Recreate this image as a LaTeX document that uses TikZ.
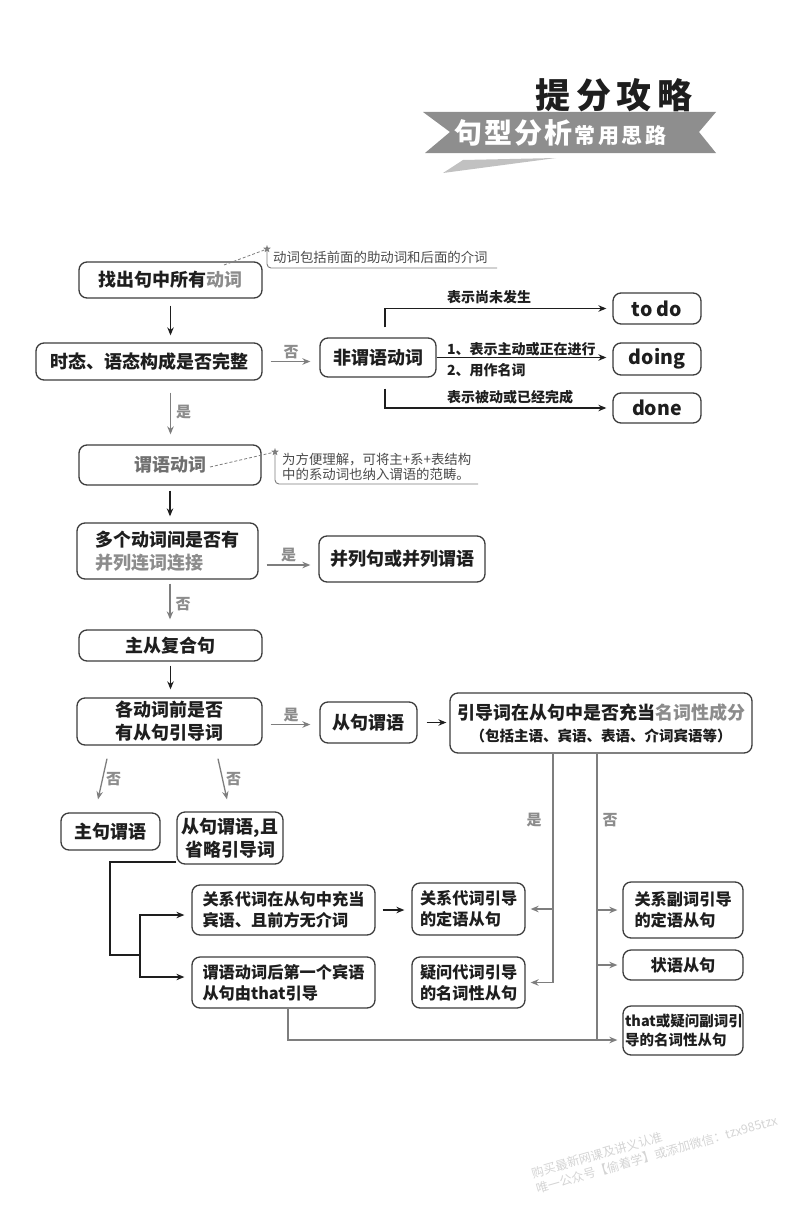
\documentclass[tikz,border=0pt]{standalone}
\usepackage{fontspec}
\setmainfont{Noto Sans CJK SC}
\newfontfamily\cjk{Noto Sans CJK SC}
\usetikzlibrary{arrows.meta,shapes.geometric,calc}
\definecolor{ink}{HTML}{1E1E1E}
\definecolor{boxc}{HTML}{3C3C3C}
\definecolor{graytxt}{HTML}{8C8C8C}
\definecolor{grayl}{HTML}{7E7E7E}
\definecolor{notec}{HTML}{4A4A4A}
\definecolor{banner}{HTML}{8E8E8E}
\definecolor{wmark}{HTML}{D4D4D4}
\begin{document}
\begin{tikzpicture}[x=1pt,y=-1pt,
  every node/.style={font=\cjk, text=ink},
  box/.style={draw=boxc, line width=1.3pt, rounded corners=8pt, inner sep=0pt, font=\cjk\bfseries},
  tbig/.style={font=\cjk\bfseries\fontsize{18}{23}\selectfont},
  tmid/.style={font=\cjk\bfseries\fontsize{16.2}{21}\selectfont},
  tsml/.style={font=\cjk\bfseries\fontsize{14.5}{19}\selectfont},
  tlab/.style={font=\cjk\bfseries\fontsize{14}{16}\selectfont, inner sep=1pt},
  yn/.style={font=\cjk\bfseries\fontsize{15}{17}\selectfont, text=graytxt, inner sep=1pt},
  notetxt/.style={font=\cjk\fontsize{13.4}{14.5}\selectfont, text=notec, inner sep=0pt, align=left},
  blk/.style={draw=ink, line width=1.2pt},
  blkarr/.style={blk, -{Stealth[length=8pt,width=6.5pt]}},
  gra/.style={draw=grayl, line width=1.3pt},
  graarr/.style={gra, -{Stealth[length=8pt,width=6.5pt]}},
  notel/.style={draw=grayl, line width=0.9pt},
  dashl/.style={draw=grayl, line width=0.8pt, dashed, dash pattern=on 3pt off 2pt},
  starmark/.style={star, star points=5, star point ratio=2.4, fill=grayl, draw=none, minimum size=8pt, inner sep=0pt}
]
\useasboundingbox (0,0) rectangle (800,1212);

% ---------- Title and banner ----------
\node[font=\cjk\bfseries\fontsize{35}{35}\selectfont\addfontfeatures{LetterSpace=16}, text=ink] (title) at (614,95) {提分攻略};
\fill[banner] (423,112) -- (716,112) -- (699,132) -- (716,153) -- (425,153) -- (450,132) -- cycle;
\fill[banner!55] (443,173) -- (463,160) -- (556,158) -- cycle;
\node[anchor=west, text=white, inner sep=0pt] (bantxt) at (454,133) {{\bfseries\fontsize{28}{28}\selectfont\addfontfeatures{LetterSpace=8}句型分析}\,{\bfseries\fontsize{21}{21}\selectfont\addfontfeatures{LetterSpace=12}常用思路}};

% ---------- Main column ----------
\node[box, tbig, minimum width=183pt, minimum height=36pt] (b1) at (170.5,280) {找出句中所有\textcolor{graytxt}{动词}};
\node[box, tbig, minimum width=226pt, minimum height=37pt] (b2) at (149,361.5) {时态、语态构成是否完整};
\node[box, tbig, minimum width=116pt, minimum height=39pt] (n1) at (378,357.5) {非谓语动词};
\node[box, font=\cjk\bfseries\fontsize{19.5}{22}\selectfont, minimum width=88pt, minimum height=31pt] (todo) at (657,308.5) {to do};
\node[box, font=\cjk\bfseries\fontsize{19.5}{22}\selectfont, minimum width=88pt, minimum height=32pt] (doing) at (657,359) {doing};
\node[box, font=\cjk\bfseries\fontsize{19.5}{22}\selectfont, minimum width=88pt, minimum height=30pt] (done) at (657,408) {done};

\node[box, tbig, minimum width=182pt, minimum height=40pt] (b3) at (170,465) {\textcolor{graytxt!80!black}{谓语动词}};
\node[box, tbig, minimum width=181pt, minimum height=56pt, text width=145pt, align=left] (b4) at (167.5,551) {多个动词间是否有\\\textcolor{graytxt}{并列连词连接}};
\node[box, tbig, minimum width=166pt, minimum height=46pt] (p1) at (402,559) {并列句或并列谓语};
\node[box, tbig, minimum width=183pt, minimum height=31pt] (b5) at (170.5,645.5) {主从复合句};
\node[box, tbig, minimum width=185pt, minimum height=47pt, align=center] (b6) at (169.5,721.5) {各动词前是否\\有从句引导词};
\node[box, tbig, minimum width=97pt, minimum height=41pt] (c1) at (368.5,722.5) {从句谓语};
\node[box, tbig, minimum width=302pt, minimum height=60pt, align=center] (c2) at (601,723) {引导词在从句中是否充当\textcolor{graytxt}{名词性成分}\\[-1pt]{\fontsize{14.5}{18}\selectfont（包括主语、宾语、表语、介词宾语等）}};

\node[box, tbig, minimum width=99pt, minimum height=37pt] (m1) at (110.5,831.5) {主句谓语};
\node[box, tbig, minimum width=106pt, minimum height=52pt, align=center] (m2) at (230,838) {从句谓语,且\\省略引导词};

\node[box, tmid, minimum width=183pt, minimum height=50pt, text width=162pt, align=left] (r1) at (283.5,910) {关系代词在从句中充当\\宾语、且前方无介词};
\node[box, tmid, minimum width=183pt, minimum height=51pt, text width=162pt, align=left] (r2) at (283.5,982.5) {谓语动词后第一个宾语\\从句由that引导};
\node[box, tmid, minimum width=113pt, minimum height=52pt, text width=97pt, align=left] (s1) at (468.5,909) {关系代词引导\\的定语从句};
\node[box, tmid, minimum width=113pt, minimum height=51pt, text width=97pt, align=left] (s2) at (468.5,982.5) {疑问代词引导\\的名词性从句};
\node[box, tmid, minimum width=120pt, minimum height=56pt, text width=97pt, align=left] (t1) at (683,910) {关系副词引导\\的定语从句};
\node[box, tmid, minimum width=120pt, minimum height=30pt] (t2) at (683,965) {状语从句};
\node[box, tsml, minimum width=120pt, minimum height=49pt, text width=116pt, align=left] (t3) at (683,1030.5) {that或疑问副词引\\导的名词性从句};

% ---------- Notes ----------
\node[starmark] (st1) at (267,249) {};
\node[notetxt, anchor=west] (note1) at (273,257) {动词包括前面的助动词和后面的介词};
\coordinate (nr1) at (497,268);
\draw[notel, rounded corners=4pt] (st1.south) -- (st1.south |- nr1) -- (nr1);
\coordinate (d1) at (224,265);
\draw[dashl] (d1) -- (st1);

\node[starmark] (st2) at (275,452) {};
\node[notetxt, anchor=west] (note2) at (282,467) {为方便理解，可将主+系+表结构\\中的系动词也纳入谓语的范畴。};
\coordinate (nr2) at (478,484);
\draw[notel, rounded corners=4pt] (st2.south) -- (st2.south |- nr2) -- (nr2);
\coordinate (d2) at (210,467);
\draw[dashl] (d2) -- (st2);

% ---------- Connectors: main column ----------
\draw[blkarr, shorten <=7pt, shorten >=7pt] (b1.south) -- (b1.south |- b2.north);
\draw[graarr, shorten <=8pt, shorten >=9pt] (b2.east) -- (b2.east -| n1.west) node[yn, midway, above=1pt] {否};
\draw[graarr, shorten <=12pt, shorten >=10pt] (b1.south |- b2.south) -- (b1.south |- b3.north) node[yn, midway, right=4pt] {是};
\draw[blkarr, shorten <=5pt, shorten >=6pt] (b3.south) -- (b3.south |- b4.north);
\draw[graarr, shorten <=8pt, shorten >=8pt] ([yshift=-14pt]b4.east) -- ([yshift=-14pt]b4.east -| p1.west) node[yn, midway, above=1pt] {是};
\draw[graarr, shorten <=4pt, shorten >=10pt] (b3.south |- b4.south) -- (b3.south |- b5.north) node[yn, midway, right=4pt] {否};
\draw[blkarr, shorten <=4pt, shorten >=8pt] (b5.south) -- (b5.south |- b6.north);
\draw[graarr, shorten <=8pt, shorten >=9pt] ([yshift=-3pt]b6.east) -- ([yshift=-3pt]b6.east -| c1.west) node[yn, midway, above=1pt] {是};
\draw[blkarr, shorten <=9pt, shorten >=3pt] (c1.east) -- (c1.east -| c2.west);

% diagonal "no" arrows
\draw[graarr] ([xshift=-62.5pt,yshift=-13pt]b6.south) -- ([xshift=-12.5pt,yshift=13pt]m1.north) node[yn, pos=0.5, right=2pt] {否};
\draw[graarr] ([xshift=48.5pt,yshift=-13pt]b6.south) -- ([xshift=-3pt,yshift=12pt]m2.north) node[yn, pos=0.5, right=2pt] {否};

% ---------- Non-finite branches ----------
\draw[blkarr, shorten >=6pt] ([xshift=7pt,yshift=10pt]n1.north) |- (todo.west);
\node[tlab, anchor=west] (lab0) at (446,297) {表示尚未发生};
\draw[blkarr, shorten >=6pt] (n1.east) -- (n1.east -| doing.west);
\node[tlab, anchor=west] (lab1) at (446,349) {1、表示主动或正在进行};
\node[tlab, anchor=west] (lab2) at (446,370) {2、用作名词};
\draw[blkarr, shorten >=6pt] ([xshift=7pt,yshift=-11pt]n1.south) |- (done.west);
\node[tlab, anchor=west] (lab3) at (446,397) {表示被动或已经完成};

% ---------- Subordinate clause branches ----------
\coordinate (j1) at (110,955);
\coordinate (j2) at (140,955);
\draw[blk, line width=1.1pt] ([yshift=-24pt]m2.west) -| (j1) -- (j2);
\draw[blkarr, line width=1.1pt, shorten >=7pt] (j2) |- ([yshift=-5pt]r1.west);
\draw[blkarr, line width=1.1pt, shorten >=7pt] (j2) |- ([yshift=5.5pt]r2.west);
\draw[blkarr, shorten <=7pt, shorten >=7pt] (r1.east) -- (r1.east -| s1.west);

% yes branch
\coordinate (yb) at ([xshift=-48pt]c2.south);
\draw[gra] (yb) -- (yb |- s2.east);
\draw[graarr, shorten >=5pt] (yb |- s1.east) -- (s1.east);
\draw[graarr, shorten >=5pt] (yb |- s2.east) -- (s2.east);
\node[yn] (yeslab) at (534,820) {是};

% no branch
\coordinate (nb) at ([xshift=-4pt]c2.south);
\coordinate (nbend) at ([yshift=-9.5pt]t3.west);
\draw[gra] (nb) -- (nb |- nbend);
\draw[graarr, shorten >=5pt] (nb |- t1.west) -- (t1.west);
\draw[graarr, shorten >=5pt] (nb |- t2.west) -- (t2.west);
\draw[graarr, shorten >=5pt] ([xshift=4.5pt]r2.south) |- (nbend);
\node[yn] (nolab) at (610,820) {否};

% ---------- Watermark ----------
\node[font=\cjk\fontsize{12.3}{16}\selectfont, text=wmark, anchor=north west, rotate=16, inner sep=0pt, align=left] (wm) at (530,1168) {购买最新网课及讲义认准\\唯一公众号【偷着学】或添加微信：tzx985tzx};
\end{tikzpicture}
\end{document}
